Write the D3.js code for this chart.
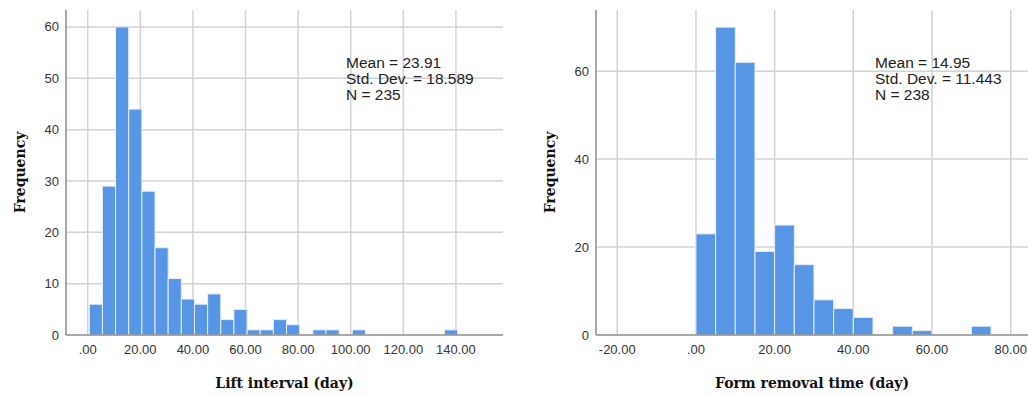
<!DOCTYPE html>
<html>
<head>
<meta charset="utf-8">
<script src="https://cdn.jsdelivr.net/npm/d3@7"></script>
<style>
  body { margin: 0; background: #fff; }
  svg { display: block; }
</style>
</head>
<body>
<div id="chart"></div>
<script>
// Lift interval histogram (bins of 5 days starting at 0.6)
const liftCounts = [6, 29, 60, 44, 28, 17, 11, 7, 6, 8, 3, 5, 1, 1, 3, 2, 0, 1, 1, 0, 1, 0, 0, 0, 0, 0, 0, 1];
const liftBinStart = 0.6;
const liftBinWidth = 5;
const liftXTicks = [0, 20, 40, 60, 80, 100, 120, 140];
const liftXTickLabels = [".00", "20.00", "40.00", "60.00", "80.00", "100.00", "120.00", "140.00"];
const liftYTicks = [0, 10, 20, 30, 40, 50, 60];
const liftStats = ["Mean = 23.91", "Std. Dev. = 18.589", "N = 235"];

// Form removal time histogram (bins of 5 days starting at 0)
const formCounts = [23, 70, 62, 19, 25, 16, 8, 6, 4, 0, 2, 1, 0, 0, 2];
const formBinStart = 0;
const formBinWidth = 5;
const formXTicks = [-20, 0, 20, 40, 60, 80];
const formXTickLabels = ["-20.00", ".00", "20.00", "40.00", "60.00", "80.00"];
const formYTicks = [0, 20, 40, 60];
const formStats = ["Mean = 14.95", "Std. Dev. = 11.443", "N = 238"];

const width = 1028, height = 396;

const svg = d3.select("#chart").append("svg")
    .attr("width", width)
    .attr("height", height);

function drawHistogram(opts) {
    const g = svg.append("g");
    const x = d3.scaleLinear().domain(opts.xDomain).range([opts.left, opts.right]);
    const y = d3.scaleLinear().domain(opts.yDomain).range([opts.bottom, opts.top]);

    // grid lines
    g.selectAll(".vgrid").data(opts.xTicks).enter().append("line")
        .attr("x1", d => x(d)).attr("x2", d => x(d))
        .attr("y1", opts.top).attr("y2", opts.bottom)
        .attr("stroke", "#d2d2d2").attr("stroke-width", 1.5);
    g.selectAll(".hgrid").data(opts.yTicks.filter(d => d > 0)).enter().append("line")
        .attr("x1", opts.left).attr("x2", opts.right)
        .attr("y1", d => y(d)).attr("y2", d => y(d))
        .attr("stroke", "#d2d2d2").attr("stroke-width", 1.5);

    // bars
    const bins = opts.counts.map((c, i) => ({
        x0: opts.binStart + i * opts.binWidth,
        x1: opts.binStart + (i + 1) * opts.binWidth,
        count: c
    })).filter(d => d.count > 0);

    g.selectAll(".bar").data(bins).enter().append("rect")
        .attr("x", d => x(d.x0))
        .attr("width", d => x(d.x1) - x(d.x0))
        .attr("y", d => y(d.count))
        .attr("height", d => y(0) - y(d.count))
        .attr("fill", "#5796e4")
        .attr("stroke", "#e4eefb")
        .attr("stroke-width", 1);

    // axis lines
    g.append("line")
        .attr("x1", opts.left).attr("x2", opts.left)
        .attr("y1", opts.top).attr("y2", opts.bottom)
        .attr("stroke", "#8c8c8c").attr("stroke-width", 1.5);
    g.append("line")
        .attr("x1", opts.left).attr("x2", opts.right)
        .attr("y1", opts.bottom).attr("y2", opts.bottom)
        .attr("stroke", "#8c8c8c").attr("stroke-width", 1.5);

    // tick labels
    g.selectAll(".ylab").data(opts.yTicks).enter().append("text")
        .attr("x", opts.left - 7)
        .attr("y", d => y(d))
        .attr("dy", "0.35em")
        .attr("text-anchor", "end")
        .style("font", "13px 'Liberation Sans', Arial, sans-serif")
        .attr("fill", "#333")
        .text(d => d);
    g.selectAll(".xlab").data(opts.xTicks).enter().append("text")
        .attr("x", d => x(d))
        .attr("y", opts.bottom + 19)
        .attr("text-anchor", "middle")
        .style("font", "13px 'Liberation Sans', Arial, sans-serif")
        .attr("fill", "#333")
        .text((d, i) => opts.xTickLabels[i]);

    // axis titles
    g.append("text")
        .attr("transform", `translate(${opts.left - 41},${(opts.top + opts.bottom) / 2}) rotate(-90)`)
        .attr("text-anchor", "middle")
        .style("font", "bold 14px 'DejaVu Serif', serif")
        .attr("fill", "#111")
        .text("Frequency");
    g.append("text")
        .attr("x", (opts.left + opts.right) / 2)
        .attr("y", 388)
        .attr("text-anchor", "middle")
        .style("font", "bold 14px 'DejaVu Serif', serif")
        .attr("fill", "#111")
        .text(opts.title);

    // stats box
    g.selectAll(".stat").data(opts.stats).enter().append("text")
        .attr("x", opts.statsX)
        .attr("y", (d, i) => 68 + i * 15.8)
        .style("font", "15.5px 'Liberation Sans', Arial, sans-serif")
        .attr("fill", "#222")
        .text(d => d);
}

drawHistogram({
    left: 66, right: 503, top: 10, bottom: 335,
    xDomain: [-8.25, 157.9], yDomain: [0, 63.3],
    counts: liftCounts, binStart: liftBinStart, binWidth: liftBinWidth,
    xTicks: liftXTicks, xTickLabels: liftXTickLabels, yTicks: liftYTicks,
    title: "Lift interval (day)", stats: liftStats, statsX: 346
});

drawHistogram({
    left: 596, right: 1028, top: 10, bottom: 335,
    xDomain: [-25.4, 84.4], yDomain: [0, 73.9],
    counts: formCounts, binStart: formBinStart, binWidth: formBinWidth,
    xTicks: formXTicks, xTickLabels: formXTickLabels, yTicks: formYTicks,
    title: "Form removal time (day)", stats: formStats, statsX: 875
});
</script>
</body>
</html>
